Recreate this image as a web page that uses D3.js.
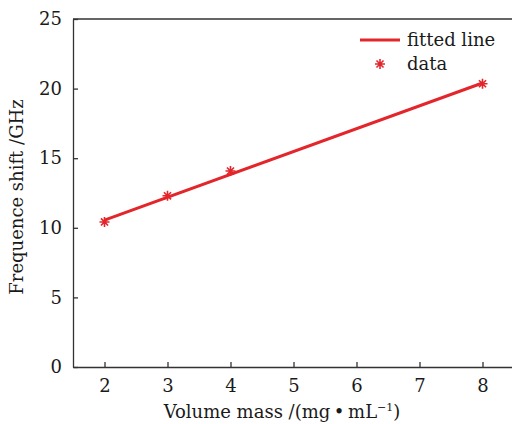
<!DOCTYPE html>
<html>
<head>
<meta charset="utf-8">
<script src="https://cdn.jsdelivr.net/npm/d3@7"></script>
<style>
  body { margin: 0; background: #fff; }
  svg { display: block; }
</style>
</head>
<body>
<svg id="chart" width="512" height="424"></svg>
<script>
// measured points
var massX = [2, 3, 4, 8];
var shiftY = [10.42, 12.3, 14.08, 20.35];
// fitted line end points
var fitX = [2, 8];
var fitY = [10.55, 20.4];
var xTicks = [2, 3, 4, 5, 6, 7, 8];
var yTicks = [0, 5, 10, 15, 20, 25];

var svg = d3.select("#chart");
var red = "#e3262b";
var ink = "#333";
var font = "DejaVu Serif";
var fs = 18;

var x = d3.scaleLinear().domain([1.5, 8.5]).range([73, 514]);
var y = d3.scaleLinear().domain([0, 25]).range([367, 19]);

// frame: top and right
svg.append("path")
  .attr("d", "M" + x(1.5) + "," + y(25) + "H" + x(8.5) + "V" + y(0))
  .attr("fill", "none")
  .attr("stroke", ink)
  .attr("stroke-width", 1.3);

var xAxis = svg.append("g")
  .attr("transform", "translate(0," + y(0) + ")")
  .call(d3.axisBottom(x).tickValues(xTicks).tickFormat(d3.format("d"))
    .tickSizeInner(-5).tickSizeOuter(0).tickPadding(12));

var yAxis = svg.append("g")
  .attr("transform", "translate(" + x(1.5) + ",0)")
  .call(d3.axisLeft(y).tickValues(yTicks).tickFormat(d3.format("d"))
    .tickSizeInner(-5).tickSizeOuter(0).tickPadding(11));

[xAxis, yAxis].forEach(function(g){
  g.select(".domain").attr("stroke", ink).attr("stroke-width", 1.3);
  g.selectAll(".tick line").attr("stroke", ink).attr("stroke-width", 1.3);
  g.selectAll(".tick text")
    .attr("fill", "#1a1a1a")
    .attr("font-family", font)
    .attr("font-size", fs);
});

// fitted line
svg.append("line")
  .attr("x1", x(fitX[0]))
  .attr("y1", y(fitY[0]))
  .attr("x2", x(fitX[1]))
  .attr("y2", y(fitY[1]))
  .attr("stroke", red)
  .attr("stroke-width", 3);

// asterisk markers
function star(g, cx, cy, r){
  var d = "";
  for(var i=0; i<4; i++){
    var a = i*Math.PI/4;
    var dx = r*Math.cos(a), dy = r*Math.sin(a);
    d += "M" + (cx-dx) + "," + (cy-dy) + "L" + (cx+dx) + "," + (cy+dy);
  }
  g.append("path")
    .attr("d", d)
    .attr("stroke", red)
    .attr("stroke-width", 1.6)
    .attr("fill", "none");
}

for(var i=0; i<massX.length; i++){
  star(svg, x(massX[i]), y(shiftY[i]), 5);
}

// legend
svg.append("line")
  .attr("x1", 360).attr("y1", 40)
  .attr("x2", 400).attr("y2", 40)
  .attr("stroke", red)
  .attr("stroke-width", 3);
star(svg, 380, 64, 5);

svg.append("text")
  .attr("x", 407).attr("y", 46)
  .attr("font-family", font).attr("font-size", fs).attr("fill", "#1a1a1a")
  .text("fitted line");
svg.append("text")
  .attr("x", 407).attr("y", 70)
  .attr("font-family", font).attr("font-size", fs).attr("fill", "#1a1a1a")
  .text("data");

// axis titles
var xt = svg.append("text")
  .attr("x", 282).attr("y", 418)
  .attr("text-anchor", "middle")
  .attr("font-family", font).attr("font-size", fs).attr("fill", "#1a1a1a");
xt.append("tspan").text("Volume mass /(mg\u2009\u2022\u2009mL");
xt.append("tspan").attr("dy", -7).attr("font-size", 11).text("\u22121");
xt.append("tspan").attr("dy", 7).text(")");

svg.append("text")
  .attr("transform", "translate(23," + 197 + ") rotate(-90)")
  .attr("text-anchor", "middle")
  .attr("font-family", font).attr("font-size", fs).attr("fill", "#1a1a1a")
  .text("Frequence shift /GHz");
</script>
</body>
</html>
